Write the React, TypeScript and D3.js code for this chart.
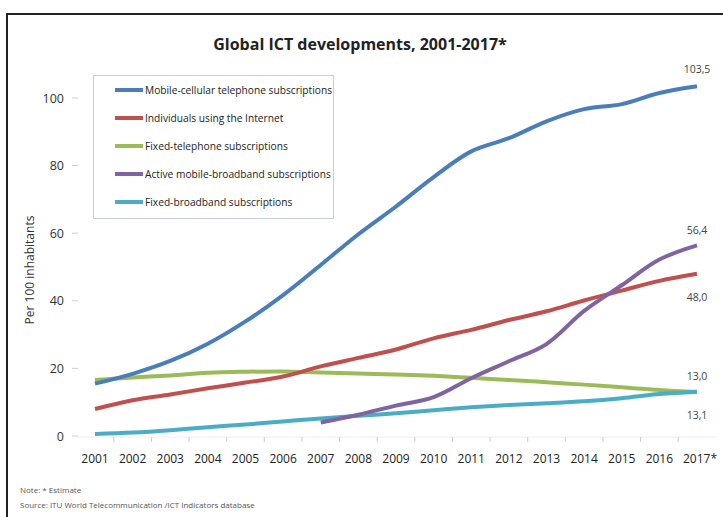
import React from "react";
import * as d3 from "d3";

const years = ["2001","2002","2003","2004","2005","2006","2007","2008","2009","2010","2011","2012","2013","2014","2015","2016","2017*"];
const mobileCellular = [15.5,18.4,22.2,27.3,33.9,41.7,50.6,59.7,67.9,76.6,84.2,88.1,93.1,96.7,98.2,101.5,103.5];
const internetUsers = [8.0,10.6,12.3,14.1,15.8,17.6,20.6,23.1,25.6,28.9,31.4,34.3,36.9,40.1,43.0,45.9,48.0];
const fixedTelephone = [16.6,17.3,17.9,18.7,19.0,19.1,18.8,18.5,18.2,17.8,17.2,16.6,15.9,15.2,14.4,13.6,13.0];
const mobileBroadband = [null,null,null,null,null,null,4.0,6.3,9.0,11.5,17.1,22.1,27.2,37.0,44.6,52.2,56.4];
const fixedBroadband = [0.6,1.0,1.7,2.6,3.4,4.3,5.2,6.0,6.7,7.6,8.5,9.2,9.7,10.3,11.2,12.4,13.1];
const yTicks = [0,20,40,60,80,100];
const seriesNames = ["Mobile-cellular telephone subscriptions","Individuals using the Internet","Fixed-telephone subscriptions","Active mobile-broadband subscriptions","Fixed-broadband subscriptions"];
const seriesColors = ["#4A7EBB","#C0504D","#9BBB59","#8064A2","#4BACC6"];
const endLabels = [
  { text: "103,5", value: 103.5, dy: -13 },
  { text: "56,4", value: 56.4, dy: -11 },
  { text: "48,0", value: 48.0, dy: 27 },
  { text: "13,0", value: 13.0, dy: -12 },
  { text: "13,1", value: 13.1, dy: 27 },
];

export default function App() {
  const W = 723, H = 517;
  const x = d3.scalePoint<string>().domain(years).range([95, 697]);
  const y = d3.scaleLinear().domain([0, 100]).range([436, 98]);
  const allSeries = [mobileCellular, internetUsers, fixedTelephone, mobileBroadband, fixedBroadband];
  const line = d3.line<number | null>()
    .defined(d => d !== null)
    .x((_, i) => x(years[i]) as number)
    .y(d => y(d as number))
    .curve(d3.curveCatmullRom.alpha(0.5));
  const step = x.step();
  const font = "'Open Sans', 'Liberation Sans', sans-serif";
  const drawOrder = [2, 1, 4, 3, 0];
  return (
    <svg width={W} height={H} style={{ position: "absolute", left: 0, top: 0, background: "#fff" }} fontFamily={font}>
      <rect x={0} y={0} width={W} height={H} fill="#fff" />
      <path d={`M7,${H} L7,14 L${W},14`} fill="none" stroke="#222" strokeWidth={2} />
      <text x={360} y={50} textAnchor="middle" fontSize={16} fontWeight="bold" fill="#222">Global ICT developments, 2001-2017*</text>
      {/* y axis */}
      {yTicks.map(t => (
        <g key={t}>
          <line x1={72} x2={78} y1={y(t)} y2={y(t)} stroke="#ccc" />
          <text x={64} y={y(t) + 4.5} textAnchor="end" fontSize={12.5} fill="#333">{t}</text>
        </g>
      ))}
      <text transform={`translate(34,270) rotate(-90)`} textAnchor="middle" fontSize={12} fill="#333">Per 100 inhabitants</text>
      {/* x axis */}
      <line x1={x(years[0])! - step / 2} x2={x(years[years.length - 1])! + step / 2} y1={437} y2={437} stroke="#eee" />
      {years.slice(0, -1).map((yr) => (
        <line key={yr} x1={x(yr)! + step / 2} x2={x(yr)! + step / 2} y1={437} y2={442} stroke="#ccc" />
      ))}
      {years.map(yr => (
        <text key={yr} x={x(yr)! + (yr.endsWith("*") ? 3 : 0)} y={463} textAnchor="middle" fontSize={12} fill="#222">{yr}</text>
      ))}
      {/* lines */}
      {drawOrder.map(i => (
        <path key={i} d={line(allSeries[i]) || ""} fill="none" stroke={seriesColors[i]} strokeWidth={4} strokeLinecap="butt" />
      ))}
      {/* end labels */}
      {endLabels.map((l, i) => (
        <text key={i} x={697} y={y(l.value) + l.dy} textAnchor="middle" fontSize={10.5} fill="#444">{l.text}</text>
      ))}
      {/* legend */}
      <rect x={93.5} y={75.5} width={240} height={143} fill="#fff" stroke="#c8cdd8" strokeWidth={1} />
      {seriesNames.map((n, i) => (
        <g key={n}>
          <line x1={115} x2={143} y1={90 + i * 28} y2={90 + i * 28} stroke={seriesColors[i]} strokeWidth={4} />
          <text x={145} y={94 + i * 28} fontSize={10.2} fill="#222">{n}</text>
        </g>
      ))}
      <text x={20} y={493} fontSize={8} fill="#555">Note: * Estimate</text>
      <text x={20} y={508} fontSize={8} fill="#555">Source: ITU World Telecommunication /ICT Indicators database</text>
    </svg>
  );
}
